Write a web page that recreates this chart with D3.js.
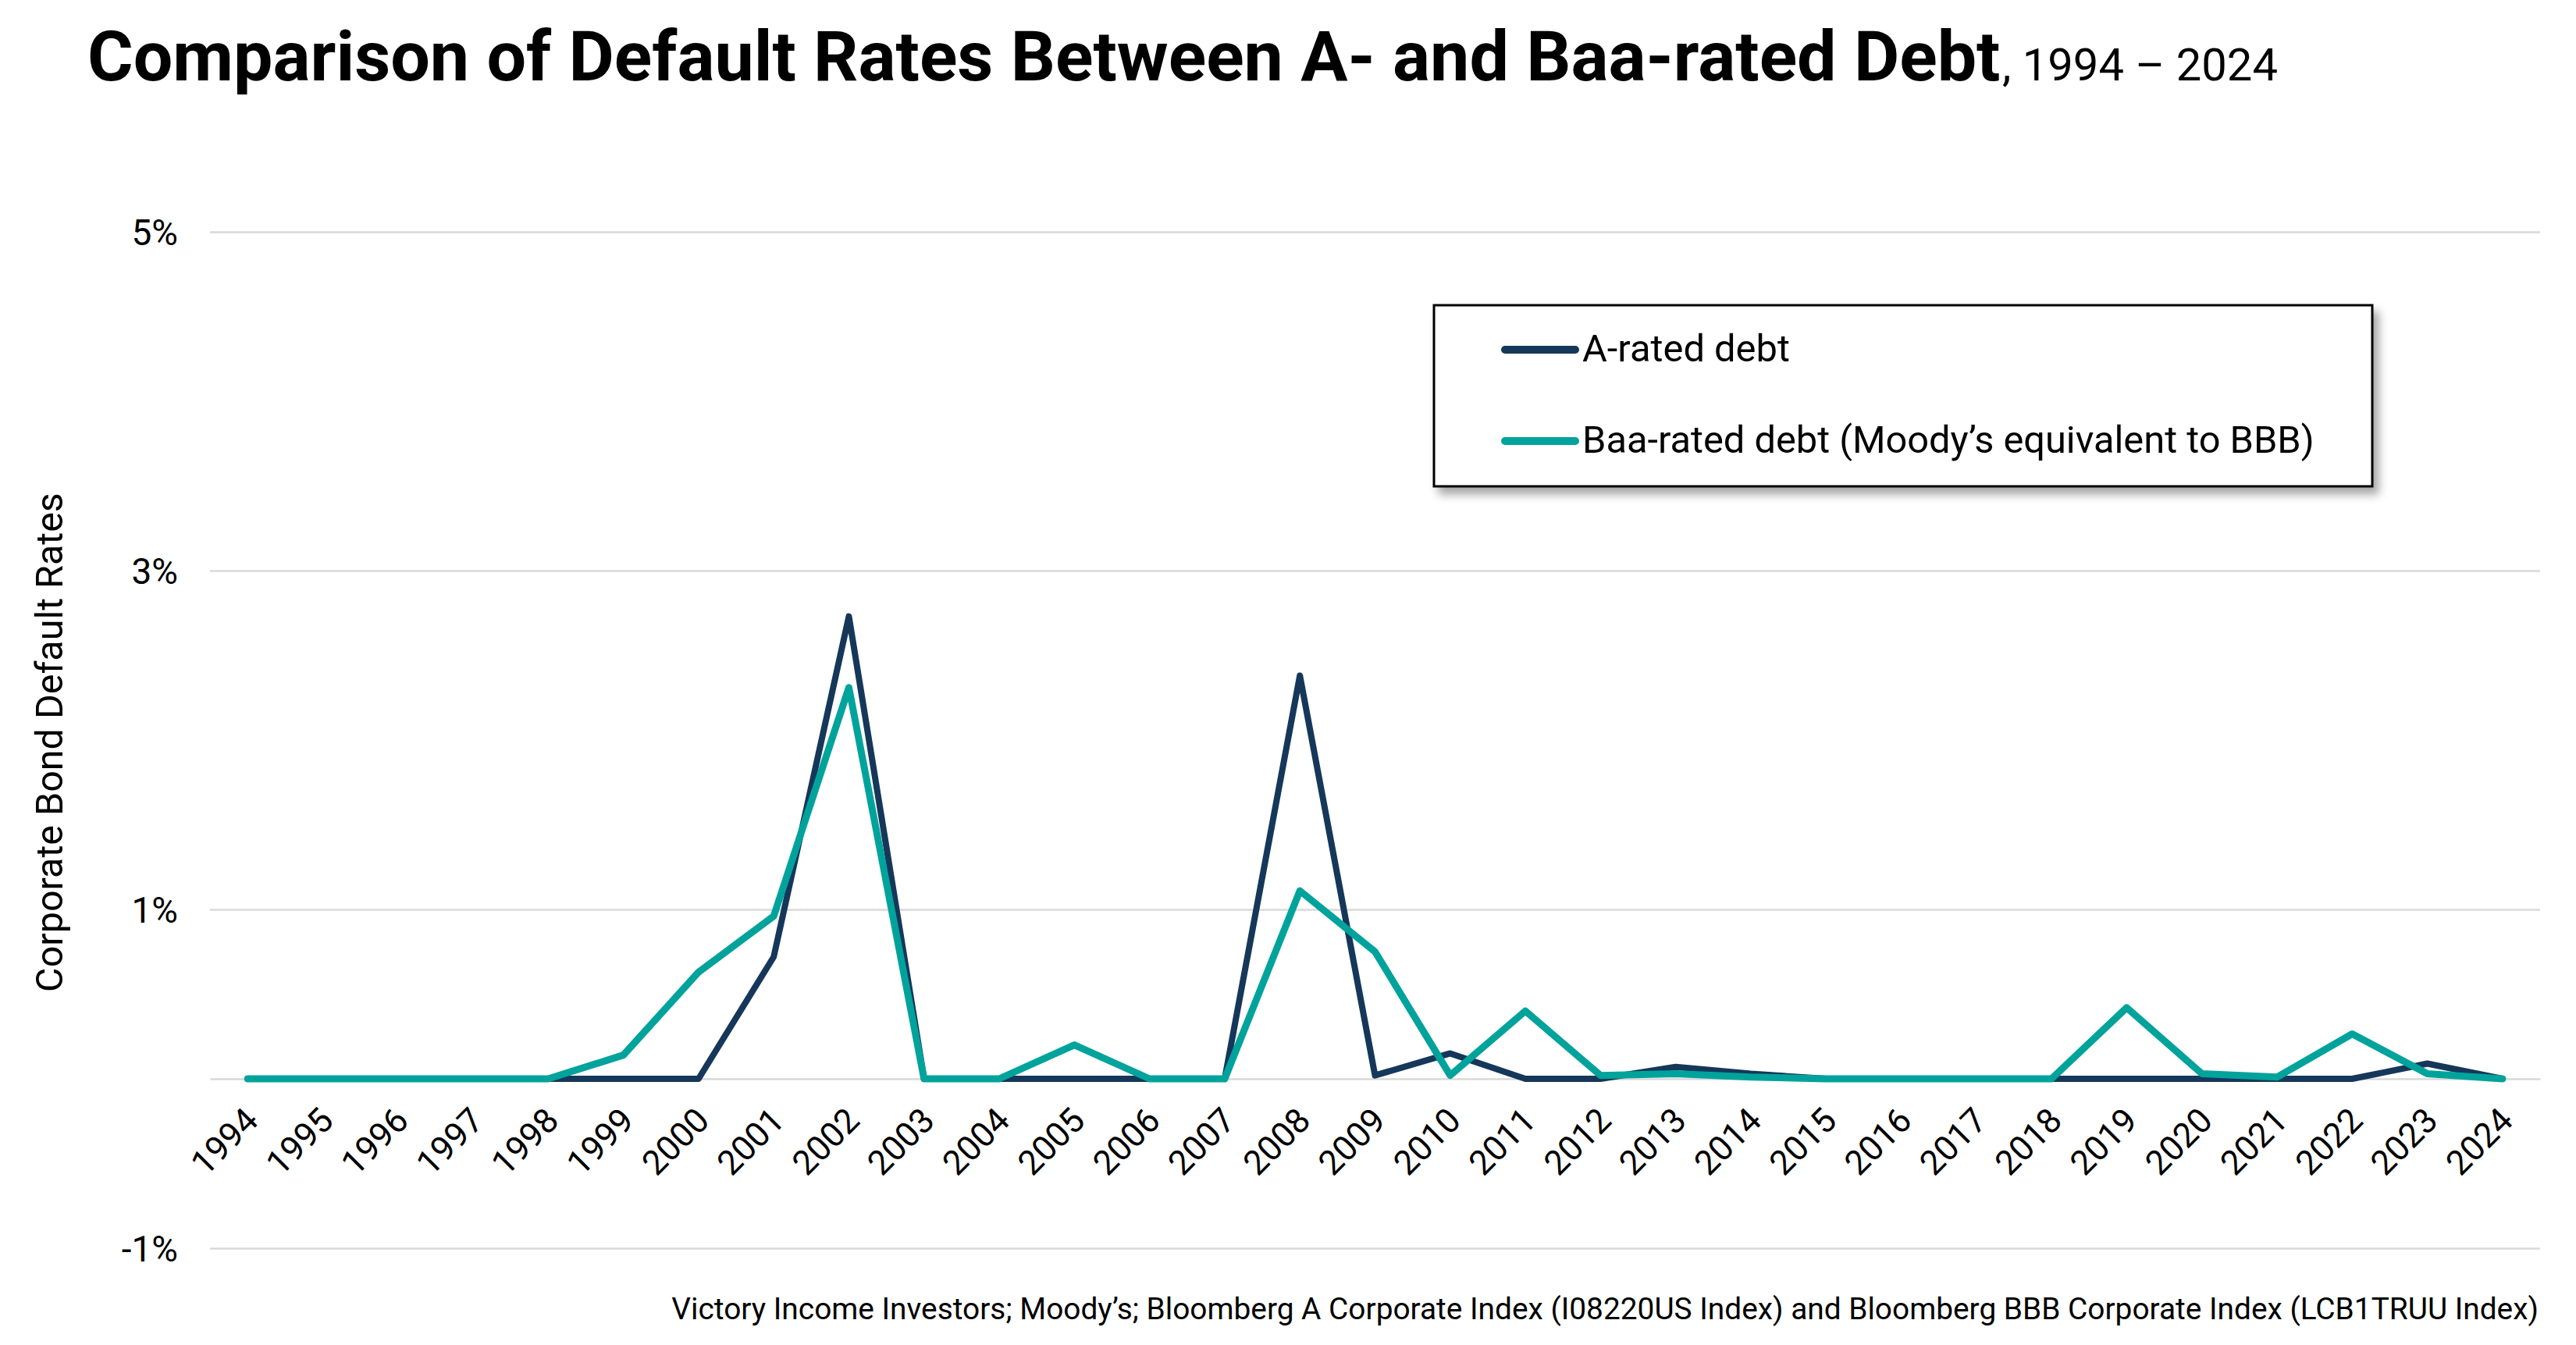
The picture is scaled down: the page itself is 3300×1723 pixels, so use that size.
<!DOCTYPE html>
<html>
<head>
<meta charset="utf-8">
<script src="https://cdn.jsdelivr.net/npm/d3@7"></script>
<style>
  html, body { margin: 0; padding: 0; background: #ffffff; }
  svg { display: block; }
  text { font-family: Roboto, "Liberation Sans", Arial, sans-serif; fill: #000; }
</style>
</head>
<body>
<svg id="chart" width="3300" height="1723"></svg>
<script>
// ---------------- DATA ----------------
const years = ["1994","1995","1996","1997","1998","1999","2000","2001","2002","2003","2004","2005","2006","2007","2008","2009","2010","2011","2012","2013","2014","2015","2016","2017","2018","2019","2020","2021","2022","2023","2024"];
const aRated = [0,0,0,0,0,0,0,0.72,2.73,0,0,0,0,0,2.38,0.02,0.15,0,0,0.07,0.03,0,0,0,0,0,0,0,0,0.09,0];
const baaRated = [0,0,0,0,0,0.14,0.63,0.96,2.31,0,0,0.20,0,0,1.11,0.75,0.02,0.40,0.02,0.03,0.01,0,0,0,0,0.42,0.03,0.01,0.265,0.03,0];
const yTicks = [-1, 1, 3, 5];
const yTickLabels = ["-1%", "1%", "3%", "5%"];
const seriesNames = ["A-rated debt", "Baa-rated debt (Moody\u2019s equivalent to BBB)"];
const seriesColors = ["#15375a", "#00a39b"];
const titleText = "Comparison of Default Rates Between A- and Baa-rated Debt";
const subtitleText = ", 1994 \u2013 2024";
const yAxisTitle = "Corporate Bond Default Rates";
const sourceText = "Victory Income Investors; Moody\u2019s; Bloomberg A Corporate Index (I08220US Index) and Bloomberg BBB Corporate Index (LCB1TRUU Index)";

// ---------------- LAYOUT ----------------
const svg = d3.select("#chart");
const plot = { left: 269, right: 3254, top: 297, bottom: 1599 };

const x = d3.scaleBand().domain(years).range([plot.left, plot.right]).padding(0);
const xc = d => x(d) + x.bandwidth() / 2;
const y = d3.scaleLinear().domain([-1, 5]).range([plot.bottom, plot.top]);

function fitWidth(sel, w) {
  const l = sel.node().getComputedTextLength();
  const fs = parseFloat(sel.attr("font-size"));
  sel.attr("font-size", fs * w / l);
}

// defs
const defs = svg.append("defs");
const f = defs.append("filter").attr("id", "shadow").attr("x", "-10%").attr("y", "-10%").attr("width", "130%").attr("height", "140%");
f.append("feDropShadow").attr("dx", 7).attr("dy", 9).attr("stdDeviation", 6).attr("flood-color", "#000").attr("flood-opacity", 0.35);

// Title
const title = svg.append("text").attr("x", 112).attr("y", 103)
  .attr("font-size", 86).attr("font-weight", 700).text(titleText);
fitWidth(title, 2451);
const sub = svg.append("text").attr("x", 2565).attr("y", 103)
  .attr("font-size", 57).attr("font-weight", 400).text(subtitleText);
fitWidth(sub, 353);

// Gridlines (y axis)
const yAxis = d3.axisLeft(y).tickValues(yTicks).tickSize(-(plot.right - plot.left))
  .tickFormat((d, i) => yTickLabels[i]).tickPadding(41);
const gy = svg.append("g").attr("transform", `translate(${plot.left},0)`).call(yAxis);
gy.select(".domain").remove();
gy.selectAll(".tick line").attr("stroke", "#d9d9d9").attr("stroke-width", 2.5);
gy.selectAll(".tick text").attr("font-size", 46).attr("font-family", "Roboto, 'Liberation Sans', Arial, sans-serif")
  .attr("fill", "#000").attr("dy", "0.36em");

// Zero line (category axis)
const xAxis = d3.axisBottom(x).tickSize(0).tickPadding(0);
const gx = svg.append("g").attr("transform", `translate(0,${y(0)})`).call(xAxis);
gx.select(".domain").attr("stroke", "#d9d9d9").attr("stroke-width", 2.5);
gx.selectAll(".tick text")
  .attr("font-size", 44).attr("font-family", "Roboto, 'Liberation Sans', Arial, sans-serif").attr("fill", "#000")
  .attr("text-anchor", "end")
  .attr("y", 0).attr("dy", 0)
  .attr("transform", "translate(16,56) rotate(-45)");

// Y axis title
svg.append("text").attr("transform", `translate(80,951) rotate(-90)`)
  .attr("text-anchor", "middle").attr("font-size", 38).text(yAxisTitle)
  .call(s => fitWidth(s, 640));

// Lines
const line = d3.line().x((d, i) => xc(years[i])).y(d => y(d));
const seriesData = [aRated, baaRated];
svg.append("g").selectAll("path").data(seriesData).join("path")
  .attr("d", d => line(d))
  .attr("fill", "none")
  .attr("stroke", (d, i) => seriesColors[i])
  .attr("stroke-width", (d, i) => i === 0 ? 8 : 9)
  .attr("stroke-linejoin", "round")
  .attr("stroke-linecap", "round");

// Legend
const lg = svg.append("g");
lg.append("rect").attr("x", 1837).attr("y", 391).attr("width", 1202).attr("height", 232)
  .attr("fill", "#fff").attr("stroke", "#000").attr("stroke-width", 3).attr("filter", "url(#shadow)");
const legY = [448, 565];
seriesNames.forEach((name, i) => {
  lg.append("line").attr("x1", 1928).attr("x2", 2018).attr("y1", legY[i]).attr("y2", legY[i])
    .attr("stroke", seriesColors[i]).attr("stroke-width", 10).attr("stroke-linecap", "round");
  lg.append("text").attr("x", 2027).attr("y", legY[i] + 15).attr("font-size", 44).text(name);
});
fitWidth(lg.selectAll("text").filter((d, i) => i === 0), 266);
fitWidth(lg.selectAll("text").filter((d, i) => i === 1), 938);

// Source
const src = svg.append("text").attr("x", 3252).attr("y", 1690).attr("text-anchor", "end")
  .attr("font-size", 34).text(sourceText);
fitWidth(src, 2393);
</script>
</body>
</html>
